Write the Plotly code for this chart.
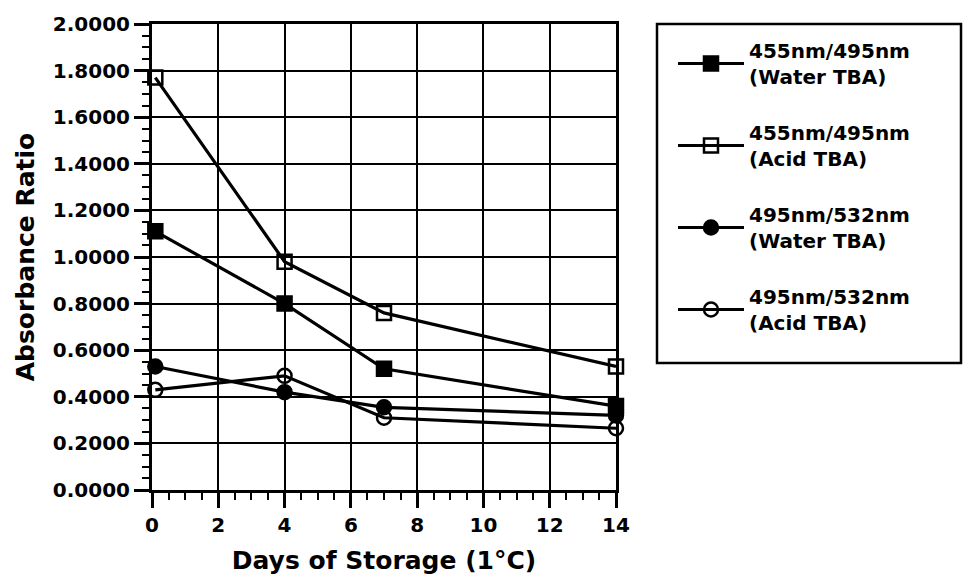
import plotly.graph_objects as go

days = [0.1, 4, 7, 14]
water_455_495 = [1.11, 0.80, 0.52, 0.36]
acid_455_495 = [1.77, 0.98, 0.76, 0.53]
water_495_532 = [0.53, 0.42, 0.355, 0.32]
acid_495_532 = [0.43, 0.49, 0.31, 0.265]

series = [
    ("455nm/495nm<br>(Water TBA)", water_455_495, "square"),
    ("455nm/495nm<br>(Acid TBA)", acid_455_495, "square-open"),
    ("495nm/532nm<br>(Water TBA)", water_495_532, "circle"),
    ("495nm/532nm<br>(Acid TBA)", acid_495_532, "circle-open"),
]

W, H = 963, 577
L, R, T, B = 152, 616, 24, 490

fig = go.Figure()
for i, (name, vals, sym) in enumerate(series):
    fig.add_trace(go.Scatter(
        x=days, y=vals, name="<b>" + name.replace("<br>", "</b><br><b>") + "</b>",
        mode="lines+markers",
        legendgroup=f"g{i}",
        line=dict(color="black", width=3.2),
        marker=dict(symbol=sym, size=14, color="black",
                    line=dict(color="black", width=2.5)),
        cliponaxis=False,
    ))

tickfont = dict(family="DejaVu Sans", size=20, color="black")
titlefont = dict(family="DejaVu Sans", size=25, color="black")

fig.update_layout(
    width=W, height=H,
    margin=dict(l=L, r=W - R, t=T, b=H - B),
    paper_bgcolor="white", plot_bgcolor="white",
    showlegend=True,
    legend=dict(
        x=(673 - L) / (R - L), y=(B - 31) / (B - T),
        xanchor="left", yanchor="top",
        font=dict(family="DejaVu Sans", size=20, color="black"),
        bgcolor="rgba(0,0,0,0)", borderwidth=0,
        tracegroupgap=27, itemwidth=66,
    ),
    xaxis=dict(
        range=[0, 14], tick0=0, dtick=2, automargin=False,
        ticks="outside", ticklen=15, tickwidth=2.5, tickcolor="black",
        minor=dict(dtick=0.5, ticks="outside", ticklen=7, tickwidth=2, tickcolor="black", showgrid=False),
        showgrid=True, gridcolor="black", gridwidth=2,
        showline=True, linecolor="black", linewidth=3, mirror=True,
        zeroline=False,
        tickfont=tickfont,
        tickprefix="<b>", ticksuffix="</b>",
        title=dict(text="<b>Days of Storage (1°C)</b>", font=titlefont, standoff=16),
    ),
    yaxis=dict(
        range=[0, 2], tick0=0, dtick=0.2, tickformat=".4f", automargin=False,
        ticks="outside", ticklen=15, tickwidth=2.5, tickcolor="black",
        minor=dict(dtick=0.05, ticks="outside", ticklen=7, tickwidth=2, tickcolor="black", showgrid=False),
        showgrid=True, gridcolor="black", gridwidth=2,
        showline=True, linecolor="black", linewidth=3, mirror=True,
        zeroline=False,
        tickfont=tickfont,
        tickprefix="<b>", ticksuffix="</b>",
        title=dict(text="<b>Absorbance Ratio</b>", font=titlefont, standoff=12),
    ),
    shapes=[dict(
        type="rect", xref="paper", yref="paper",
        x0=(657 - L) / (R - L), x1=(961 - L) / (R - L),
        y0=(B - 363) / (B - T), y1=(B - 24) / (B - T),
        line=dict(color="black", width=2.5), fillcolor="rgba(0,0,0,0)",
    )],
)

fig.write_html("out.html")
